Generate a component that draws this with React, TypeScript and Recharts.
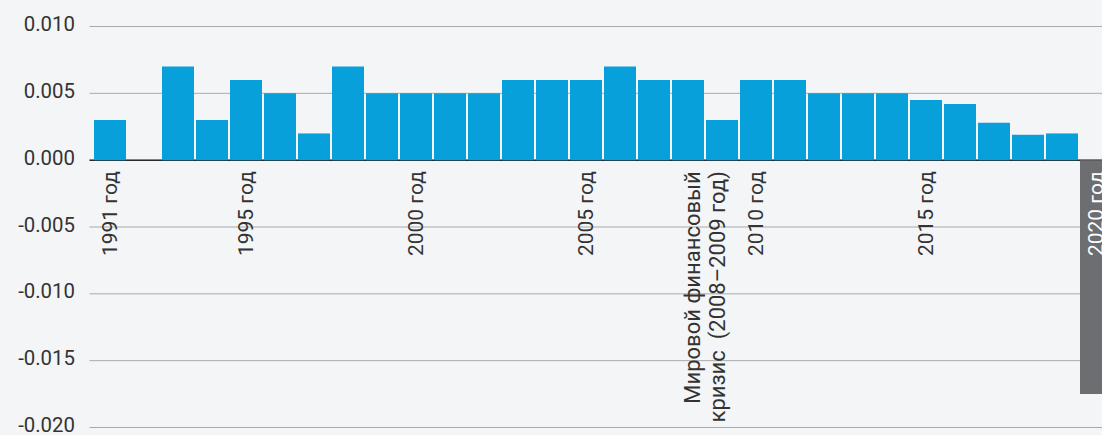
import React from 'react';
import { BarChart, Bar, XAxis, YAxis, CartesianGrid, ReferenceLine, Cell } from 'recharts';

const years = [
  '1991', '1992', '1993', '1994', '1995', '1996', '1997', '1998', '1999', '2000',
  '2001', '2002', '2003', '2004', '2005', '2006', '2007', '2008', '2009', '2010',
  '2011', '2012', '2013', '2014', '2015', '2016', '2017', '2018', '2019', '2020',
];

const values = [
  0.003, 0, 0.007, 0.003, 0.006, 0.005, 0.002, 0.007, 0.005, 0.005,
  0.005, 0.005, 0.006, 0.006, 0.006, 0.007, 0.006, 0.006, 0.003, 0.006,
  0.006, 0.005, 0.005, 0.005, 0.0045, 0.0042, 0.0028, 0.0019, 0.002, -0.0175,
];

const highlightYears = ['2020'];

const labelYears = ['1991', '1995', '2000', '2005', '2008', '2010', '2015', '2020'];
const labelTexts = [
  '1991 год',
  '1995 год',
  '2000 год',
  '2005 год',
  'Мировой финансовый\nкризис  (2008–2009 год)',
  '2010 год',
  '2015 год',
  '2020 год',
];

const yTicks = [0.01, 0.005, 0, -0.005, -0.01, -0.015, -0.02];
const yDomain: [number, number] = [-0.02, 0.01];

const data = years.map((year, i) => ({ year, value: values[i] }));

const W = 1118;
const H = 435;
const X_AXIS_H = 1;
const M = { top: 26.5, right: 5, bottom: 7.5 - X_AXIS_H, left: 0 };
const Y_AXIS_W = 89.5;
const PAD_LEFT = 3.5;
const plotH = H - M.top - M.bottom - X_AXIS_H;
const plotW = W - M.left - M.right - Y_AXIS_W;
const band = (plotW - PAD_LEFT) / years.length;
const zeroY = M.top + (plotH * (yDomain[1] - 0)) / (yDomain[1] - yDomain[0]);

const FONT = 'Roboto, "Noto Sans", sans-serif';
const TEXT = '#333333';
const BLUE = '#08a0da';
const GRAY = '#6d6e71';

const XTick = (props: any) => {
  const { x, payload } = props;
  const i = labelYears.indexOf(String(payload.value));
  if (i < 0) return <g />;
  const lines = labelTexts[i].split('\n');
  const multi = lines.length > 1;
  const fs = multi ? 22 : 21;
  const cx = multi ? x + band / 2 : x;
  const ty = zeroY + 11;
  const lh = 25;
  const white = highlightYears.includes(String(payload.value));
  return (
    <text
      x={cx}
      y={ty}
      transform={`rotate(-90 ${cx} ${ty})`}
      textAnchor="end"
      fontSize={fs}
      fontFamily={FONT}
      fill={white ? '#ffffff' : TEXT}
      style={{ whiteSpace: 'pre' }}
    >
      {lines.map((l, k) => (
        <tspan key={k} x={cx} dy={k === 0 ? fs * 0.355 - ((lines.length - 1) * lh) / 2 : lh}>
          {l}
        </tspan>
      ))}
    </text>
  );
};

const YTick = (props: any) => {
  const { x, y, payload } = props;
  return (
    <text x={x} y={y} dy={4.6} textAnchor="end" fontSize={20.4} fontFamily={FONT} fill={TEXT}>
      {Number(payload.value).toFixed(3)}
    </text>
  );
};

export default function App() {
  return (
    <div
      style={{
        position: 'fixed',
        left: 0,
        top: 0,
        width: 1102,
        height: 435,
        overflow: 'hidden',
        background: '#f4f5f7',
      }}
    >
      <BarChart width={W} height={H} data={data} margin={M} barCategoryGap={1}>
        <CartesianGrid vertical={false} stroke="#a9a9a9" strokeWidth={1} />
        <XAxis
          dataKey="year"
          height={X_AXIS_H}
          axisLine={false}
          tickLine={false}
          interval={0}
          padding={{ left: PAD_LEFT, right: 0 }}
          tick={<XTick />}
        />
        <YAxis
          width={Y_AXIS_W}
          domain={yDomain}
          ticks={yTicks}
          axisLine={false}
          tickLine={false}
          tickSize={0}
          tickMargin={14.5}
          interval={0}
          tick={<YTick />}
        />
        <ReferenceLine y={0} stroke="#2a2a2a" strokeWidth={1.5} zIndex={200} />
        <Bar dataKey="value" isAnimationActive={false}>
          {data.map((d) => (
            <Cell key={d.year} fill={highlightYears.includes(d.year) ? GRAY : BLUE} />
          ))}
        </Bar>
      </BarChart>
    </div>
  );
}
